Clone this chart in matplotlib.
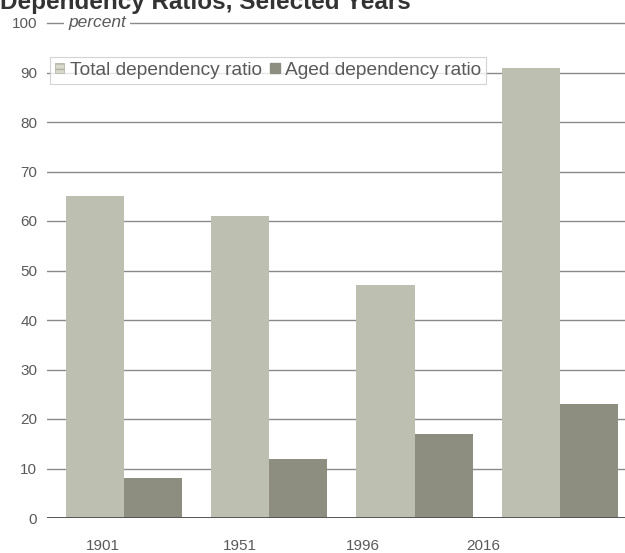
import matplotlib
matplotlib.use("Agg")
import matplotlib.pyplot as plt
import numpy as np
from matplotlib.patches import Patch

years = ["1901", "1951", "1996", "2016"]
total_ratio = [65, 61, 47, 91]
aged_ratio = [8, 12, 17, 23]
series_names = ["Total dependency ratio", "Aged dependency ratio"]
title = "Dependency Ratios, Selected Years"
unit_label = "percent"

plt.rcParams["font.family"] = ["Liberation Sans", "DejaVu Sans"]

W, H = 625, 553
fig = plt.figure(figsize=(W / 100, H / 100), dpi=100)
fig.patch.set_facecolor("white")

# axes placed in pixel terms
left_px, right_px, zero_px, top_px = 47, 625, 518, 23
ax = fig.add_axes([left_px / W, (H - zero_px) / H,
                   (right_px - left_px) / W, (zero_px - top_px) / H])

total_col = "#bdbfb0"
aged_col = "#8d8e80"
grid_col = "#8a8a8a"
text_col = "#5a5a5a"

x = np.arange(len(years))
bw = 0.4
ax.bar(x - bw / 2, total_ratio, width=bw, color=total_col, zorder=3)
ax.bar(x + bw / 2, aged_ratio, width=bw, color=aged_col, zorder=3)

ax.set_xlim(-0.53, 3.448)
ax.set_ylim(0, 100)

for v in range(10, 100, 10):
    ax.axhline(v, color=grid_col, lw=1.0, zorder=1)
ax.axhline(0, color="#555555", lw=1.4, zorder=4)
ax.axhline(100, color=grid_col, lw=1.0, zorder=1, clip_on=False)

for s in ax.spines.values():
    s.set_visible(False)

ax.set_yticks(range(0, 101, 10))
ax.set_yticklabels([str(v) for v in range(0, 101, 10)])
ax.tick_params(axis="y", length=0, pad=7, labelsize=11, labelcolor=text_col)

label_pos = [-0.145, 0.80, 1.645, 2.47]
ax.set_xticks(label_pos)
ax.set_xticklabels(years)
ax.tick_params(axis="x", length=0, pad=15, labelsize=11, labelcolor=text_col)

# unit label sitting on the top gridline
ax.text(-0.385, 100, unit_label, style="italic", fontsize=12.5, color=text_col,
        va="center", ha="left", zorder=5,
        bbox=dict(facecolor="white", edgecolor="none", pad=3))

handles = [Patch(facecolor="#d8d9cc", edgecolor="#b0b0a0", hatch="---", lw=0.5),
           Patch(facecolor=aged_col, edgecolor=aged_col)]
leg = ax.legend(handles, series_names, loc="upper left",
                bbox_to_anchor=(3 / (right_px - left_px), (zero_px - 57) / (zero_px - top_px)),
                ncol=2, frameon=True, fancybox=False, fontsize=13.8,
                handlelength=0.5, handleheight=0.5, handletextpad=0.3,
                columnspacing=0.4, borderpad=0.25, borderaxespad=0)
leg.get_frame().set_edgecolor("#c8c8c8")
leg.get_frame().set_linewidth(0.8)
for t in leg.get_texts():
    t.set_color(text_col)
leg.set_zorder(6)

fig.text(0.0, 1 - 9 / H, title, fontsize=17.5, fontweight="bold",
         color="#333333", ha="left", va="baseline")

fig.savefig("out.png", dpi=100, facecolor="white")
